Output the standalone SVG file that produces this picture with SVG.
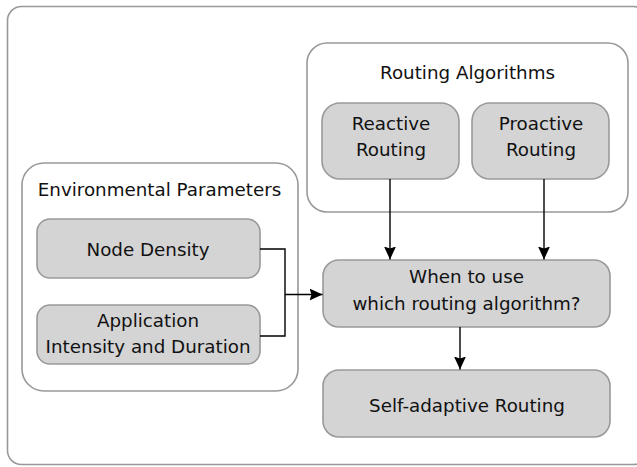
<svg xmlns="http://www.w3.org/2000/svg" width="637" height="467" viewBox="0 0 637 467">
<style>
.container{fill:#fff;stroke:#999;stroke-width:1.6}
.node{fill:#d4d4d4;stroke:#999;stroke-width:1.6}
text{font-family:"DejaVu Sans","Liberation Sans",sans-serif;font-size:18.3px;fill:#111;text-anchor:middle}
.conn{fill:none;stroke:#000;stroke-width:1.4}
</style>
<defs>
<marker id="arrow" markerUnits="userSpaceOnUse" markerWidth="14" markerHeight="12" refX="13" refY="6" orient="auto">
<path d="M0,0 L13,6 L0,12 L2,6 z" fill="#000"/>
</marker>
</defs>
<rect id="frame" class="container" x="7.5" y="6.5" width="640" height="458" rx="14"/>
<g id="environmental-parameters">
<rect class="container" x="22" y="163" width="276" height="228" rx="22"/>
<text x="159.5" y="196">Environmental Parameters</text>
</g>
<g id="routing-algorithms">
<rect class="container" x="307" y="43" width="321" height="169" rx="20"/>
<text x="467.5" y="79">Routing Algorithms</text>
</g>
<g id="node-density">
<rect class="node" x="37" y="219" width="223" height="59" rx="13"/>
<text x="148" y="256">Node Density</text>
</g>
<g id="application">
<rect class="node" x="37" y="305" width="223" height="59" rx="13"/>
<text x="148" y="327">Application</text>
<text x="148" y="353">Intensity and Duration</text>
</g>
<g id="reactive-routing">
<rect class="node" x="322" y="103" width="137" height="76" rx="18"/>
<text x="391" y="130">Reactive</text>
<text x="391" y="156">Routing</text>
</g>
<g id="proactive-routing">
<rect class="node" x="472" y="103" width="137" height="76" rx="18"/>
<text x="541" y="130">Proactive</text>
<text x="541" y="156">Routing</text>
</g>
<g id="when-to-use">
<rect class="node" x="323" y="260" width="287" height="67" rx="16"/>
<text x="466.5" y="283">When to use</text>
<text x="466.5" y="310">which routing algorithm?</text>
</g>
<g id="self-adaptive-routing">
<rect class="node" x="323" y="370" width="287" height="67" rx="16"/>
<text x="467" y="412">Self-adaptive Routing</text>
</g>
<g id="connectors">
<path class="conn" d="M260,249 H285 V336 H260"/>
<path class="conn" d="M285,294.5 H322.5" marker-end="url(#arrow)"/>
<path class="conn" d="M390,179 V259.5" marker-end="url(#arrow)"/>
<path class="conn" d="M544,179 V259.5" marker-end="url(#arrow)"/>
<path class="conn" d="M460,327 V369.5" marker-end="url(#arrow)"/>
</g>
</svg>
